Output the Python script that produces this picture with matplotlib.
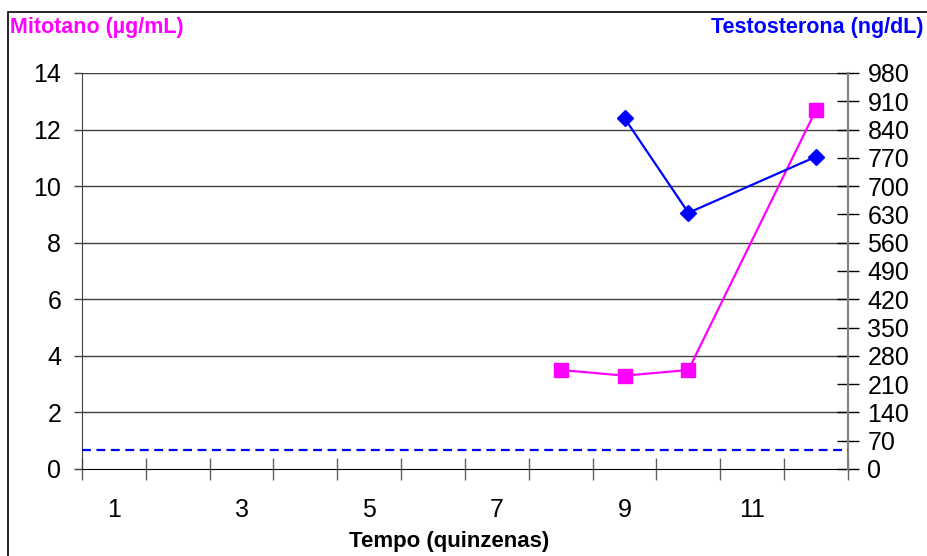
import matplotlib
matplotlib.use("Agg")
import matplotlib.pyplot as plt
from matplotlib.patches import Rectangle

plt.rcParams['font.family'] = ['Liberation Sans', 'DejaVu Sans']

# Data
quinzenas = list(range(1, 13))
mito_x = [8, 9, 10, 12]
mito_y = [3.5, 3.3, 3.5, 12.7]
testo_x = [9, 10, 12]
testo_y = [868, 634, 773]
testo_ref = 47  # dashed reference line (ng/dL)
xtick_labels = ['1', '3', '5', '7', '9', '11']
left_ticks = [0, 2, 4, 6, 8, 10, 12, 14]
right_ticks = list(range(0, 981, 70))

W, H = 928, 556
fig = plt.figure(figsize=(W / 100, H / 100), dpi=100)
# outer frame
fig.patches.append(Rectangle((8 / W, -0.1), 1.2, 1 - 12 / H + 0.1, transform=fig.transFigure,
                             fill=False, edgecolor='black', lw=1.2))

TFS = 18
x0, x1, y0, y1 = 82, 848, 73, 469
ax = fig.add_axes([x0 / W, 1 - y1 / H, (x1 - x0) / W, (y1 - y0) / H])
ax.set_xlim(0.5, 12.5)
ax.set_ylim(0, 14)
ax.set_yticks(left_ticks)
ax.set_yticklabels([str(t) for t in left_ticks], fontsize=TFS)
ax.tick_params(axis='y', direction='out', length=6, width=1, color='#404040', pad=9)
for t in left_ticks[1:]:
    ax.axhline(t, color='#404040', lw=1, zorder=1)

ax.set_xticks(range(1, 13, 2))
ax.set_xticklabels(xtick_labels, fontsize=TFS)
ax.set_xticks([i + 0.5 for i in range(0, 13)], minor=True)
ax.tick_params(axis='x', which='major', length=0, pad=21)
ax.tick_params(axis='x', which='minor', direction='inout', length=16, width=1, color='#606060')

for s in ['top', 'right']:
    ax.spines[s].set_visible(False)
ax.spines['left'].set_color('#404040')
ax.spines['bottom'].set_color('black')

ax.plot(mito_x, mito_y, color='#FF00FF', lw=1.6, marker='s', markersize=9.5,
        markeredgecolor='#FF00FF', zorder=4, clip_on=False)

ax2 = ax.twinx()
ax2.set_ylim(0, 980)
ax2.set_yticks(right_ticks)
ax2.set_yticklabels([str(t) for t in right_ticks], fontsize=TFS)
ax2.tick_params(axis='y', direction='inout', length=16, width=1, color='black', pad=6)
for s in ['top', 'left', 'bottom']:
    ax2.spines[s].set_visible(False)
ax2.spines['right'].set_color('#808080')
ax2.spines['right'].set_linewidth(1.5)
ax2.axhline(testo_ref, color='#0000FF', lw=1.6, ls=(0, (4, 2.5)), zorder=3)
ax2.plot(testo_x, testo_y, color='#0000FF', lw=1.6, marker='D', markersize=8.5,
         markeredgecolor='#0000FF', zorder=4)

fig.text(10 / W, 1 - 28 / H, 'Mitotano (µg/mL)', color='#FF00FF', fontsize=15.5,
         fontweight='bold', ha='left', va='center')
fig.text(924 / W, 1 - 28 / H, 'Testosterona (ng/dL)', color='#0000FF', fontsize=15.5,
         fontweight='bold', ha='right', va='center')
fig.text(449 / W, 1 - 541 / H, 'Tempo (quinzenas)', color='black', fontsize=16,
         fontweight='bold', ha='center', va='center')

fig.savefig('out.png', dpi=100)
